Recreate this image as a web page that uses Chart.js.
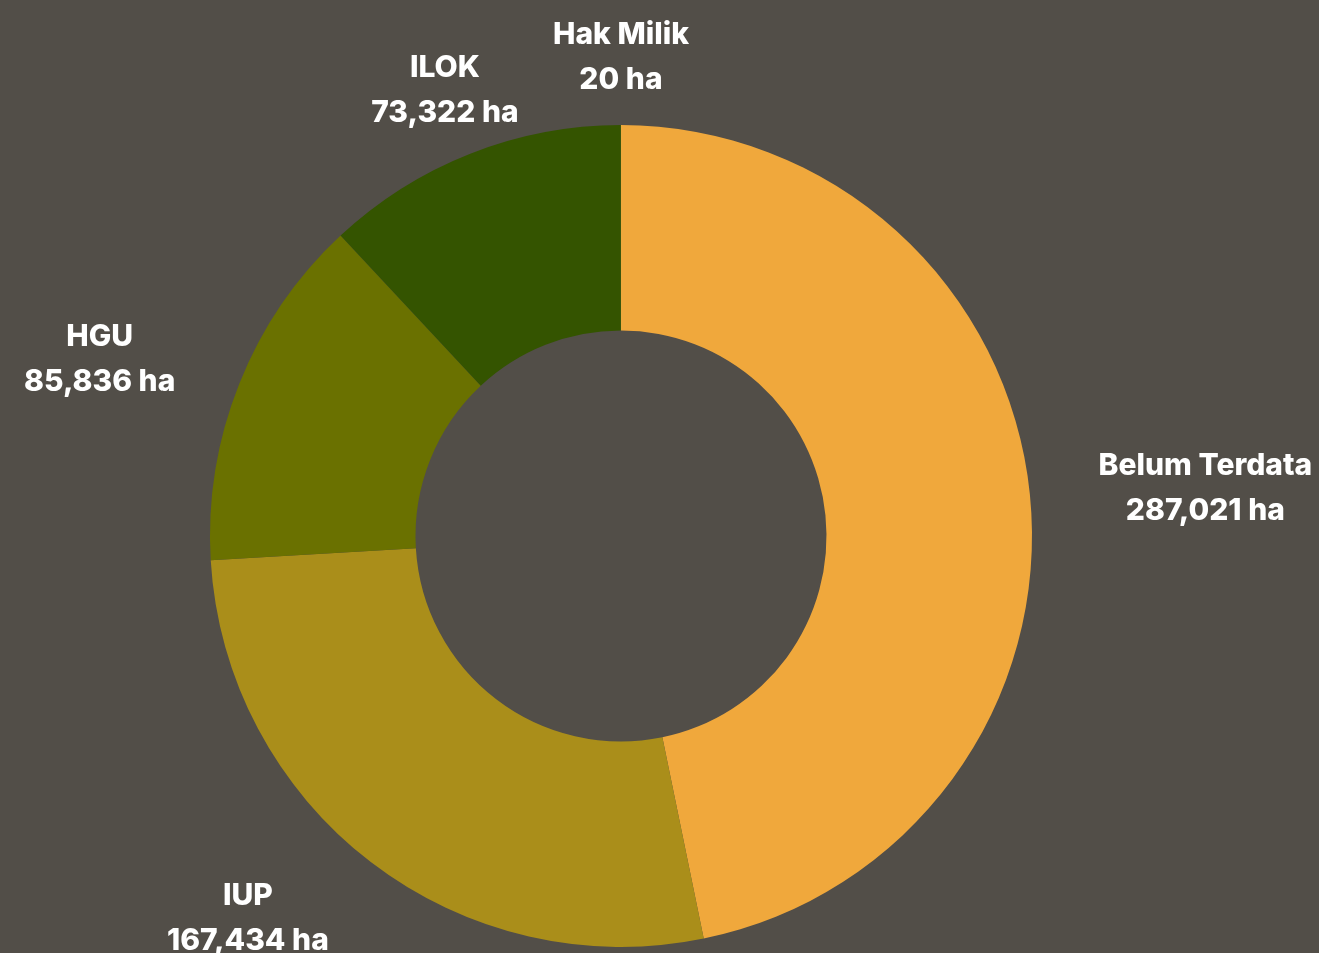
<!DOCTYPE html>
<html>
<head>
<meta charset="utf-8">
<script src="https://cdn.jsdelivr.net/npm/chart.js@4"></script>
<style>
  html, body { margin: 0; padding: 0; background: #524E48; }
  #wrap { width: 1319px; height: 953px; }
</style>
</head>
<body>
<div id="wrap"><canvas id="c" width="1319" height="953"></canvas></div>
<script>
const categories = ["Belum Terdata", "IUP", "HGU", "ILOK", "Hak Milik"];
const values = [287021, 167434, 85836, 73322, 20];
const colors = ["#F0A83C", "#AA8E1A", "#6A7100", "#345400", "#8A8A80"];

const labelPlugin = {
  id: 'outLabels',
  afterDatasetsDraw(chart) {
    const ctx = chart.ctx;
    const meta = chart.getDatasetMeta(0);
    ctx.save();
    ctx.fillStyle = '#FFFFFF';
    ctx.font = '800 30px Inter, Roboto, sans-serif';
    ctx.textBaseline = 'middle';
    meta.data.forEach((arc, i) => {
      const p = arc.getProps(['x', 'y', 'startAngle', 'endAngle', 'outerRadius'], true);
      const mid = (p.startAngle + p.endAngle) / 2;
      const dx = Math.cos(mid), dy = Math.sin(mid);
      const r = p.outerRadius + 69;
      const ax = p.x + dx * r;
      const ay = p.y + dy * r;
      let align = 'center';
      if (dx > 0.5) align = 'left';
      else if (dx < -0.5) align = 'right';
      const valText = values[i].toLocaleString('en-US') + ' ha';
      const l1 = categories[i];
      let x = ax;
      if (align !== 'center') {
        const w = Math.max(ctx.measureText(l1).width, ctx.measureText(valText).width);
        x = ax + (align === 'left' ? w / 2 : -w / 2);
      }
      ctx.textAlign = 'center';
      ctx.fillText(l1, x, ay - 21);
      ctx.fillText(valText, x, ay + 24);
    });
    ctx.restore();
  }
};

new Chart(document.getElementById('c'), {
  type: 'doughnut',
  data: {
    labels: categories,
    datasets: [{
      data: values,
      backgroundColor: colors,
      borderWidth: 0
    }]
  },
  options: {
    responsive: false,
    animation: false,
    cutout: '50%',
    layout: { padding: { top: 125, bottom: 6, left: 0, right: 77 } },
    plugins: {
      legend: { display: false },
      tooltip: { enabled: false }
    }
  },
  plugins: [labelPlugin]
});
</script>
</body>
</html>
